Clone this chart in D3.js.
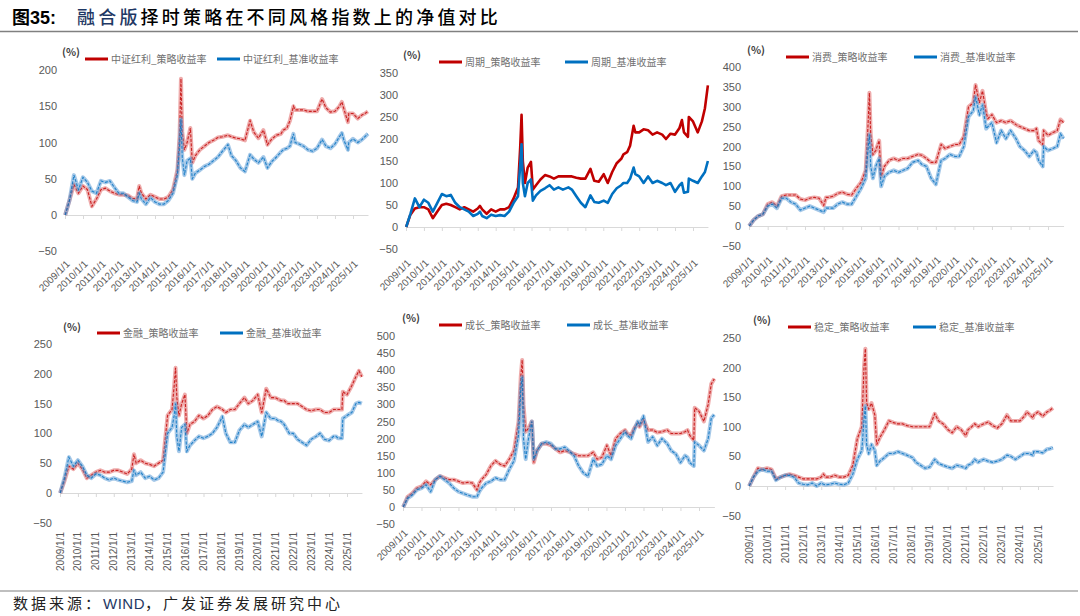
<!DOCTYPE html>
<html>
<head>
<meta charset="utf-8">
<script src="https://cdn.jsdelivr.net/npm/d3@7"></script>
<style>
  body { margin: 0; background: #fff; }
  svg text { font-family: "Liberation Sans", Arial, sans-serif; }
</style>
</head>
<body>
<div id="wrapper"></div>
<script>
// sample dates (quarterly, denser around the 2015 spike and a few jumps)
const dateStrings = [
  "2009-01-05","2009-04-01","2009-07-01","2009-10-01",
  "2010-01-01","2010-04-01","2010-07-01","2010-10-01",
  "2011-01-01","2011-04-01","2011-07-01","2011-10-01",
  "2012-01-01","2012-04-01","2012-07-01","2012-10-01",
  "2013-01-01","2013-02-15","2013-04-01","2013-07-01","2013-10-01",
  "2014-01-01","2014-04-01","2014-07-01","2014-10-01",
  "2015-01-01","2015-04-01","2015-05-15","2015-06-12","2015-07-08","2015-08-20","2015-10-15","2015-12-20",
  "2016-01-28","2016-04-01","2016-07-01","2016-10-01",
  "2017-01-01","2017-04-01","2017-07-01","2017-10-01",
  "2018-01-20","2018-04-01","2018-07-01","2018-10-01",
  "2019-01-01","2019-04-15","2019-07-01","2019-10-01",
  "2020-01-10","2020-04-01","2020-07-01","2020-10-01",
  "2021-01-01","2021-02-15","2021-05-01","2021-07-01","2021-09-10","2021-10-15",
  "2022-01-01","2022-04-01","2022-07-01","2022-10-01",
  "2023-01-01","2023-04-15","2023-07-01","2023-10-01",
  "2024-01-01","2024-04-01","2024-05-20","2024-07-01","2024-09-20","2024-10-08",
  "2025-01-01","2025-04-08","2025-07-01","2025-09-01","2025-10-31"
]
const years = d3.range(2009, 2026)
const yearLabels = years.map(y => y + "/1/1")

// 中证红利
const hongliStrategy = [
  0,20,42,30, 40,35,12,22, 35,37,33,30, 28,28,27,23, 22,40,30,22,28, 25,22,22,25,
  35,62,110,188,115,90,100,120, 72,82,90,95, 100,103,107,108, 110,108,106,105,
  103,130,114,106, 117,97,105,110, 112,117,120,130,150,145, 145,145,143,143,
  143,160,148,142, 143,150,156,146,128,140, 140,133,138,140,143
]
const hongliBench = [
  0,20,55,35, 52,45,33,30, 47,45,47,38, 30,30,25,20, 18,30,22,15,24, 18,15,15,20,
  30,55,95,132,80,55,75,78, 50,58,62,67, 70,75,80,88, 97,82,75,65,
  60,83,77,72, 80,65,74,80, 87,90,92,95,112,100, 98,95,90,88,
  92,104,95,92, 98,108,113,103,90,100, 105,100,104,108,112
]
// 周期
const cycleStrategy = [
  0,28,42,45, 45,40,20,35, 50,53,50,45, 40,45,40,35, 42,48,40,30,40, 35,40,40,45,
  65,90,180,255,150,100,135,148, 85,95,108,118, 115,110,115,115, 115,115,112,110,
  110,132,105,103, 120,100,125,145, 155,165,170,185,230,215, 215,222,220,210,
  215,210,200,212, 210,225,243,215,205,250, 240,215,240,270,322
]
const cycleBench = [
  0,30,65,45, 62,55,35,55, 75,70,73,55, 45,40,35,25, 30,35,25,20,28, 25,27,25,35,
  55,70,140,188,100,70,100,108, 60,72,82,88, 95,85,90,85, 90,85,70,55,
  45,72,57,55, 60,55,75,88, 95,100,100,110,135,120, 115,100,115,100,
  105,100,95,100, 80,95,100,78,80,110, 105,100,115,125,150
]
// 消费
const consumerStrategy = [
  0,15,25,30, 55,60,50,75, 78,78,78,68, 65,70,72,70, 52,72,72,75,82, 85,80,78,95,
  110,140,250,335,230,180,190,215, 125,150,165,170, 165,170,170,175, 180,178,170,160,
  160,205,195,200, 205,205,225,300, 310,355,310,340,285,270, 280,260,265,260,
  265,255,250,245, 240,240,245,215,205,240, 228,235,240,268,260
]
const consumerBench = [
  0,15,25,30, 50,55,45,70, 70,60,55,40, 45,50,45,40, 35,45,45,45,55, 60,55,55,75,
  95,120,190,230,150,120,150,170, 100,125,135,140, 135,140,145,160, 165,155,150,120,
  105,165,170,180, 175,175,200,275, 290,325,280,305,245,250, 260,210,240,220,
  240,220,200,190, 175,190,185,165,150,200, 190,195,200,232,220
]
// 金融
const financeStrategy = [
  0,20,45,40, 50,40,25,30, 35,38,35,35, 38,38,35,32, 40,65,50,55,50, 48,45,50,55,
  130,140,180,210,160,130,150,165, 100,115,120,130, 125,130,140,145, 140,135,140,140,
  150,160,150,155, 165,135,175,160, 160,158,155,155,150,150, 150,150,145,140,
  138,140,140,135, 135,140,140,140,140,170, 165,180,195,205,195
]
const financeBench = [
  0,25,60,45, 55,45,30,25, 32,30,25,22, 25,22,20,18, 20,38,30,35,25, 28,22,25,35,
  100,110,130,150,95,70,110,115, 70,80,88,95, 92,95,100,110, 128,100,85,85,
  105,115,110,115, 120,95,135,125, 125,122,120,115,105,100, 100,90,85,80,
  90,95,100,90, 88,95,95,92,92,125, 130,135,150,152,150
]
// 成长
const growthStrategy = [
  0,30,40,55, 60,75,65,80, 90,85,80,80, 75,70,72,70, 50,70,80,95,120, 135,125,120,140,
  165,250,380,430,300,220,230,250, 130,165,185,185, 180,170,160,165, 160,155,150,150,
  150,160,140,145, 180,150,200,215, 225,215,210,230,245,235, 255,225,225,218,
  220,225,215,215, 215,220,225,210,195,290, 280,250,300,360,375
]
const growthBench = [
  0,25,35,50, 55,65,45,80, 90,80,70,55, 45,40,35,30, 30,45,55,70,75, 85,80,80,110,
  135,210,340,380,200,140,200,250, 140,165,185,190, 185,170,170,175, 160,150,120,100,
  90,140,120,125, 150,140,180,200, 220,210,200,225,250,240, 265,190,205,180,
  200,185,165,155, 130,150,145,130,120,190, 180,165,200,260,270
]
// 稳定
const stableStrategy = [
  0,15,30,28, 30,28,12,15, 18,20,18,15, 12,12,12,12, 15,20,15,15,18, 15,15,18,35,
  80,100,200,232,140,130,140,120, 70,82,95,110, 107,105,105,102, 100,100,100,100,
  100,122,110,105, 95,90,100,95, 85,95,100,105,100,102, 105,108,102,98,
  105,120,110,110, 110,118,125,122,115,120, 125,118,125,128,132
]
const stableBench = [
  0,15,25,28, 25,25,10,15, 18,18,15,5, 3,2,5,0, 5,3,2,3,5, 3,2,5,20,
  45,60,110,135,70,55,70,60, 35,42,48,55, 55,58,55,52, 48,40,35,30,
  32,45,38,35, 32,30,35,33, 30,35,38,45,40,42, 45,42,40,42,
  45,52,50,45, 50,55,55,55,52,58, 58,56,62,63,65
]

const panelNames = ["中证红利", "周期", "消费", "金融", "成长", "稳定"]
const strategySeries = [hongliStrategy, cycleStrategy, consumerStrategy, financeStrategy, growthStrategy, stableStrategy]
const benchSeries = [hongliBench, cycleBench, consumerBench, financeBench, growthBench, stableBench]
const yMaxes = [200, 350, 400, 250, 500, 250]

// layout of each small chart
const layout = [
  {x09: 65,  x25: 353,  yTop: 70,  yZero: 215, rot: -45, labelY: 259, pct: [62, 56],   legY: 59,  leg1: 85,  leg2: 217, solid: false},
  {x09: 406, x25: 693,  yTop: 73,  yZero: 227, rot: -45, labelY: 258, pct: [403, 59],  legY: 62,  leg1: 439, leg2: 565, solid: true},
  {x09: 749, x25: 1048, yTop: 67,  yZero: 226, rot: -45, labelY: 255, pct: [747, 54],  legY: 57,  leg1: 786, leg2: 914, solid: false},
  {x09: 60,  x25: 347,  yTop: 344, yZero: 493, rot: -90, labelY: 532, pct: [63, 331],  legY: 333, leg1: 97,  leg2: 220, solid: false},
  {x09: 403, x25: 699,  yTop: 336, yZero: 507, rot: -45, labelY: 528, pct: [402, 322], legY: 325, leg1: 439, leg2: 567, solid: false},
  {x09: 749, x25: 1038, yTop: 338, yZero: 486, rot: -90, labelY: 525, pct: [753, 324], legY: 327, leg1: 788, leg2: 913, solid: false},
]

const parseDate = d3.timeParse("%Y-%m-%d")
const dates = dateStrings.map(parseDate)
const yearDates = years.map(y => new Date(y, 0, 1))
const endDate = parseDate("2025-11-01")

const red = "#c00000", redLight = "#e06666"
const blue = "#0070c0", blueLight = "#5b9bd5"
const gray = "#595959"

const width = 1080, height = 616
const svg = d3.select("#wrapper").append("svg")
    .attr("width", width)
    .attr("height", height)

// title
svg.append("text")
    .attr("x", 12).attr("y", 24)
    .attr("font-size", 18).attr("font-weight", "bold").attr("fill", "#000")
    .style("font-family", "'Liberation Sans', 'Noto Sans CJK SC', sans-serif")
    .text("图35:")
const title = svg.append("text")
    .attr("x", 77).attr("y", 24)
    .attr("font-size", 18).attr("letter-spacing", 3.2).attr("font-weight", 500)
    .style("font-family", "'Noto Sans CJK SC', sans-serif")
title.append("tspan").attr("fill", "#1f3864").text("融合版")
title.append("tspan").attr("fill", "#000").text("择时策略在不同风格指数上的净值对比")

svg.append("line")
    .attr("x1", 0).attr("x2", 1078).attr("y1", 31.5).attr("y2", 31.5)
    .attr("stroke", "#808080").attr("stroke-width", 1.5)

// footer
svg.append("line")
    .attr("x1", 0).attr("x2", 1078).attr("y1", 591).attr("y2", 591)
    .attr("stroke", "#808080").attr("stroke-width", 1.2)
const source = svg.append("text")
    .attr("x", 13).attr("y", 609)
    .attr("font-size", 15).attr("letter-spacing", 3)
    .style("font-family", "'Noto Sans CJK SC', sans-serif")
source.append("tspan").attr("fill", "#222").text("数据来源：")
source.append("tspan").attr("fill", "#1f3864").style("font-family", "'Liberation Sans', sans-serif").attr("letter-spacing", 0.5).text("WIND")
source.append("tspan").attr("fill", "#222").text("，广发证券发展研究中心")

panelNames.forEach((name, i) => {
    const L = layout[i]
    const g = svg.append("g")

    const xScale = d3.scaleTime()
        .domain([yearDates[0], yearDates[16]])
        .range([L.x09, L.x25])
    const yScale = d3.scaleLinear()
        .domain([0, yMaxes[i]])
        .range([L.yZero, L.yTop])

    // y labels only, no axis line
    const yAxis = g.append("g")
        .attr("transform", `translate(${L.x09},0)`)
        .call(d3.axisLeft(yScale).tickValues(d3.range(-50, yMaxes[i] + 1, 50)).tickSize(0).tickPadding(8))
    yAxis.select(".domain").remove()
    yAxis.selectAll("text")
        .attr("fill", gray).attr("font-size", 11)
        .style("font-family", "'Liberation Sans', Arial, sans-serif")

    // zero line with small year ticks
    const axisScale = xScale.copy()
        .domain([yearDates[0], endDate])
        .range([L.x09, xScale(endDate)])
    const xAxis = g.append("g")
        .attr("transform", `translate(0,${yScale(0)})`)
        .call(d3.axisBottom(axisScale).tickValues(yearDates).tickSize(4).tickSizeOuter(0).tickFormat(""))
    xAxis.select(".domain").attr("stroke", "#d9d9d9").attr("stroke-width", 1.2)
    xAxis.selectAll(".tick line").attr("stroke", "#d9d9d9")

    // year labels sit under the -50 row
    g.selectAll(".yl")
        .data(yearDates)
        .join("text")
        .attr("class", "yl")
        .attr("text-anchor", "end")
        .attr("font-size", 10)
        .attr("fill", gray)
        .attr("dy", "0.35em")
        .attr("transform", d => L.rot === -90
            ? `translate(${xScale(d)},${L.labelY}) rotate(-90)`
            : `translate(${xScale(d) + 3},${L.labelY + 3}) rotate(-45)`)
        .text((d, j) => yearLabels[j])

    const lineGenerator = d3.line()
        .x((d, j) => xScale(dates[j]))
        .y(d => yScale(d))

    const drawSeries = (values, dark, light) => {
        if (L.solid) {
            g.append("path").attr("d", lineGenerator(values))
                .attr("fill", "none").attr("stroke", dark).attr("stroke-width", 2.6)
                .attr("stroke-linejoin", "round")
        } else {
            g.append("path").attr("d", lineGenerator(values))
                .attr("fill", "none").attr("stroke", light).attr("stroke-width", 4)
                .attr("stroke-opacity", 0.55).attr("stroke-linejoin", "round")
            g.append("path").attr("d", lineGenerator(values))
                .attr("fill", "none").attr("stroke", dark).attr("stroke-width", 1.1)
                .attr("stroke-opacity", 0.8).attr("stroke-dasharray", "3,1.5")
        }
    }
    drawSeries(strategySeries[i], red, redLight)
    drawSeries(benchSeries[i], blue, blueLight)

    // legend
    g.append("text")
        .attr("x", L.pct[0]).attr("y", L.pct[1])
        .attr("font-size", 10.5).attr("font-weight", "bold").attr("fill", "#404040")
        .style("font-family", "'Noto Sans CJK SC', sans-serif")
        .text("(%)")
    const items = [
        {x: L.leg1, color: red, label: name + "_策略收益率"},
        {x: L.leg2, color: blue, label: name + "_基准收益率"},
    ]
    items.forEach(it => {
        g.append("line")
            .attr("x1", it.x).attr("x2", it.x + 23)
            .attr("y1", L.legY).attr("y2", L.legY)
            .attr("stroke", it.color).attr("stroke-width", 3)
        g.append("text")
            .attr("x", it.x + 26).attr("y", L.legY + 3.5)
            .attr("font-size", 10).attr("fill", "#707070")
            .style("font-family", "'Noto Sans CJK SC', sans-serif")
            .text(it.label)
    })
})
</script>
</body>
</html>
